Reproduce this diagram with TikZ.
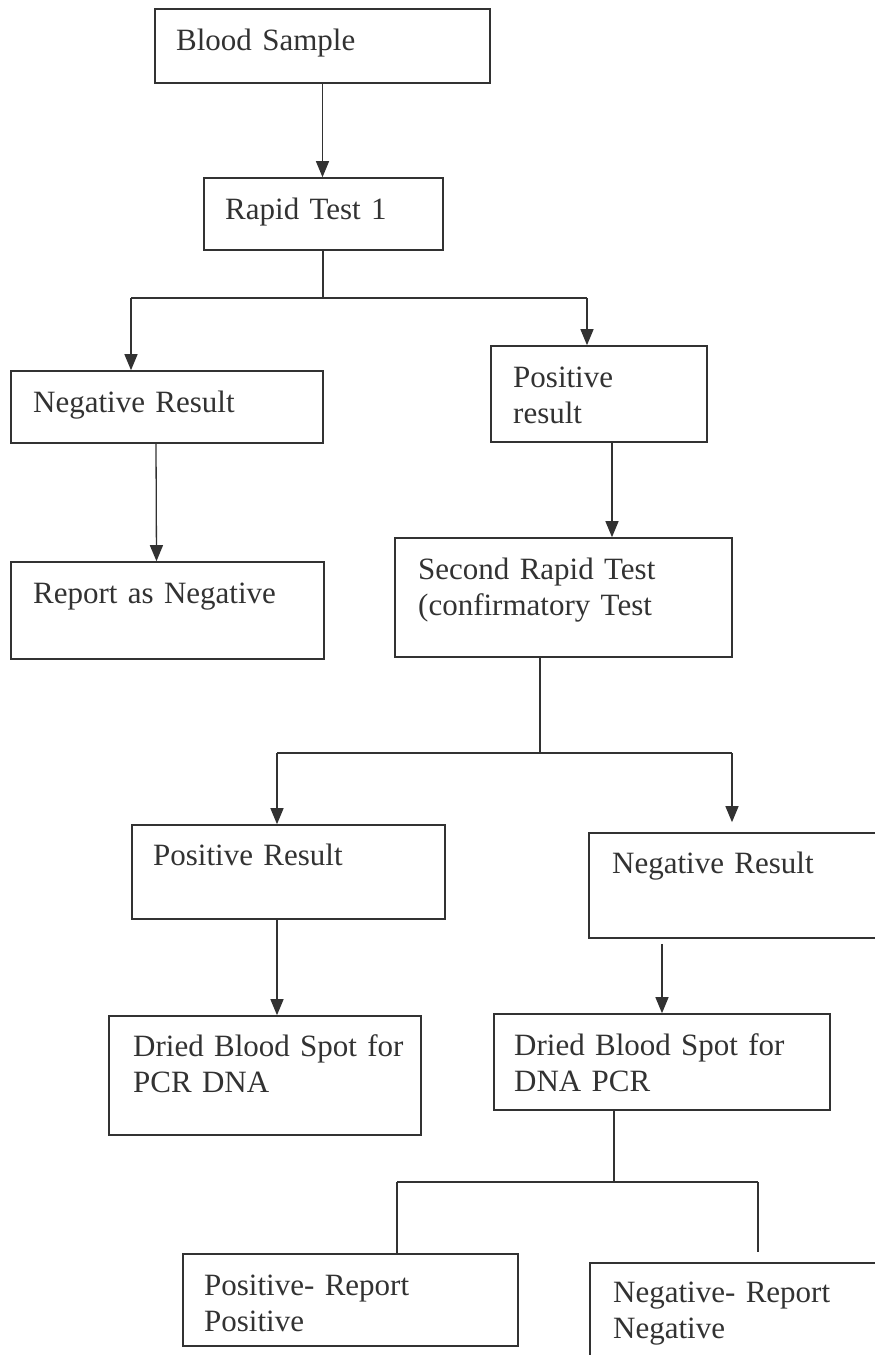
\documentclass[tikz,border=0pt]{standalone}
\usepackage{fontspec}
\setmainfont{Liberation Serif}
\usetikzlibrary{arrows.meta}
\definecolor{ink}{RGB}{50,50,50}
\tikzset{
  box/.style={draw=ink, line width=1.6pt, rectangle, inner sep=0pt},
  txt/.style={anchor=base west, inner sep=0pt, text=ink, text width=320pt, align=left,
    font=\fontsize{31}{36}\selectfont},
  link/.style={draw=ink, line width=1.3pt},
  arr/.style={link, -{Triangle[length=16pt,width=13pt]}}
}
\begin{document}
\begin{tikzpicture}[x=1pt,y=-1pt]
        \useasboundingbox (0,0) rectangle (875,1355);
        % boxes
        \node[box, minimum width=335pt, minimum height=74pt] (sample) at (322.5,46) {};
        \node[box, minimum width=239pt, minimum height=72pt] (rapid) at (323.5,214) {};
        \node[box, minimum width=312pt, minimum height=72pt] (negres) at (167,407) {};
        \node[box, minimum width=216pt, minimum height=96pt] (posres) at (599,394) {};
        \node[box, minimum width=313pt, minimum height=97pt] (repneg1) at (167.5,610.5) {};
        \node[box, minimum width=337pt, minimum height=119pt] (second) at (563.5,597.5) {};
        \node[box, minimum width=313pt, minimum height=94pt] (posres2) at (288.5,872) {};
        \node[box, minimum width=287pt, minimum height=105pt] (negres2) at (732.5,885.5) {};
        \node[box, minimum width=312pt, minimum height=119pt] (dbs1) at (265,1075.5) {};
        \node[box, minimum width=336pt, minimum height=96pt] (dbs2) at (662,1062) {};
        \node[box, minimum width=335pt, minimum height=92pt] (reppos) at (350.5,1300) {};
        \node[box, minimum width=300pt, minimum height=127pt] (repneg) at (740,1326.5) {};
        % texts
        \node[txt] (sample-t) at (176,50.5) {Blood Sample};
        \node[txt] (rapid-t) at (225,219) {Rapid Test 1};
        \node[txt] (negres-t) at (33,412) {Negative Result};
        \node[txt] (posres-t) at (513,387) {Positive\\result};
        \node[txt] (repneg1-t) at (33,603) {Report as Negative};
        \node[txt] (second-t) at (418,579) {Second Rapid Test\\(confirmatory Test};
        \node[txt] (posres2-t) at (153,865) {Positive Result};
        \node[txt] (negres2-t) at (612,873) {Negative Result};
        \node[txt] (dbs1-t) at (133,1056) {Dried Blood Spot for\\PCR DNA};
        \node[txt] (dbs2-t) at (514,1055) {Dried Blood Spot for\\DNA PCR};
        \node[txt] (reppos-t) at (204,1295) {Positive- Report\\Positive};
        \node[txt] (repneg-t) at (613,1302) {Negative- Report\\Negative};
        % junctions
        \coordinate (j1) at (323,298);
        \coordinate (j1l) at (131,298);
        \coordinate (j1r) at (587,298);
        \coordinate (j2) at (540,753);
        \coordinate (j2l) at (277,753);
        \coordinate (j2r) at (732,753);
        \coordinate (j3) at (614,1182);
        \coordinate (j3l) at (397,1182);
        \coordinate (j3r) at (758,1182);
        % connectors
        \draw[arr] (sample.south) -- (sample.south |- rapid.north);
        \draw[link] (rapid.south -| j1) -- (j1);
        \draw[link] (j1l) -- (j1r);
        \draw[arr] (j1l) -- (negres.north -| j1l);
        \draw[arr] (j1r) -- (posres.north -| j1r);
        \draw[arr] ([xshift=-11pt]negres.south) -- ([xshift=-11pt]repneg1.north);
        \draw[arr] ([xshift=13pt]posres.south) -- ([xshift=13pt]posres.south |- second.north);
        \draw[link] (second.south -| j2) -- (j2);
        \draw[link] (j2l) -- (j2r);
        \draw[arr] (j2l) -- (posres2.north -| j2l);
        \draw[arr] (j2r) -- ([yshift=10pt]negres2.north -| j2r);
        \draw[arr] (posres2.south -| j2l) -- (dbs1.north -| j2l);
        \draw[arr] ([yshift=-5pt]negres2.south -| dbs2.north) -- (dbs2.north);
        \draw[link] (dbs2.south -| j3) -- (j3);
        \draw[link] (j3l) -- (j3r);
        \draw[link] (j3l) -- (reppos.north -| j3l);
        \draw[link] (j3r) -- ([yshift=10pt]repneg.north -| j3r);
\end{tikzpicture}
\end{document}
